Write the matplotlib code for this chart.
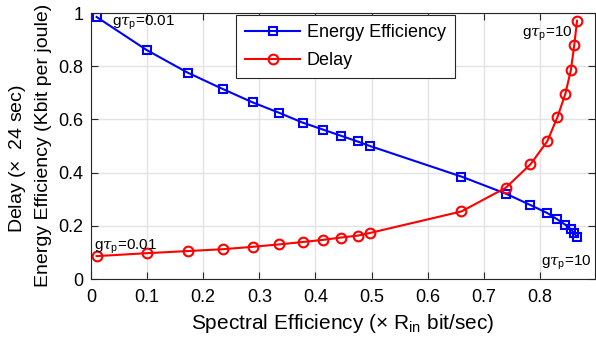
import matplotlib
matplotlib.use("Agg")
import matplotlib.pyplot as plt
from matplotlib.ticker import FuncFormatter

plt.rcParams['font.family'] = ['Liberation Sans', 'DejaVu Sans']
plt.rcParams['mathtext.fontset'] = 'custom'
plt.rcParams['mathtext.rm'] = 'Liberation Sans'
plt.rcParams['mathtext.it'] = 'DejaVu Serif:italic'

spectral_eff = [0.010, 0.099, 0.172, 0.235, 0.288, 0.335, 0.377, 0.413, 0.446, 0.475,
                0.497, 0.660, 0.739, 0.783, 0.813, 0.831, 0.845, 0.855, 0.861, 0.866]
energy_eff = [0.985, 0.861, 0.776, 0.714, 0.664, 0.625, 0.588, 0.562, 0.538, 0.517,
              0.500, 0.385, 0.321, 0.278, 0.248, 0.224, 0.204, 0.187, 0.172, 0.158]
delay = [0.086, 0.097, 0.105, 0.112, 0.121, 0.130, 0.139, 0.147, 0.156, 0.163,
         0.173, 0.254, 0.343, 0.431, 0.518, 0.608, 0.695, 0.785, 0.879, 0.971]
xticks = [0, 0.1, 0.2, 0.3, 0.4, 0.5, 0.6, 0.7, 0.8]
yticks = [0, 0.2, 0.4, 0.6, 0.8, 1]

fig = plt.figure(figsize=(5.96, 3.43), dpi=100)
ax = fig.add_axes([91/596, 1-279/343, (595-91)/596, (279-13)/343])

axcol = '#262626'
ax.plot(spectral_eff, energy_eff, '-s', color='blue', lw=1.5, ms=6,
        mfc='none', mew=1.5, label='Energy Efficiency')
ax.plot(spectral_eff, delay, '-o', color='red', lw=1.5, ms=7,
        mfc='none', mew=1.5, label='Delay')

ax.set_xlim(0, 0.898)
ax.set_ylim(0, 1)
ax.set_xticks(xticks)
ax.set_yticks(yticks)
fmt = FuncFormatter(lambda v, p: ('%g' % v))
ax.xaxis.set_major_formatter(fmt)
ax.yaxis.set_major_formatter(fmt)
ax.grid(True, color='#e3e3e3', lw=1.0)
ax.set_axisbelow(True)
ax.tick_params(direction='in', length=5, width=0.8, colors=axcol, labelsize=13,
               top=True, right=True, labelcolor='black')
ax.tick_params(axis='x', pad=7.5)
ax.tick_params(axis='y', pad=5.5)
for s in ax.spines.values():
    s.set_color(axcol)
    s.set_linewidth(0.8)

ax.set_xlabel(r'Spectral Efficiency ($\times$ R$_{\rm in}$ bit/sec)', fontsize=15, labelpad=4)
fig.text(18/596, 1-233/343, 'Delay ($\\times$  24 sec)',
         rotation=90, ha='center', va='bottom', fontsize=14)
fig.text(43/596, 1-145/343, 'Energy Efficiency (Kbit per joule)',
         rotation=90, ha='center', va='center', fontsize=14)

tau = r'g$\tau_{\rm p}$'
ax.text(0.037, 0.962, tau + '=0.01', fontsize=11, va='center', ha='left')
ax.text(0.005, 0.121, tau + '=0.01', fontsize=11, va='center', ha='left')
ax.text(0.8575, 0.921, tau + '=10', fontsize=11, va='center', ha='right')
ax.text(0.802, 0.059, tau + '=10', fontsize=11, va='center', ha='left')

leg = ax.legend(loc='upper left', bbox_to_anchor=(0.2885, 0.9925), borderaxespad=0,
                fontsize=13, fancybox=False, framealpha=1, edgecolor=axcol,
                handlelength=3.0, handletextpad=0.4, borderpad=0.5, labelspacing=0.6)
leg.get_frame().set_linewidth(0.8)

fig.savefig('out.png', dpi=100)
